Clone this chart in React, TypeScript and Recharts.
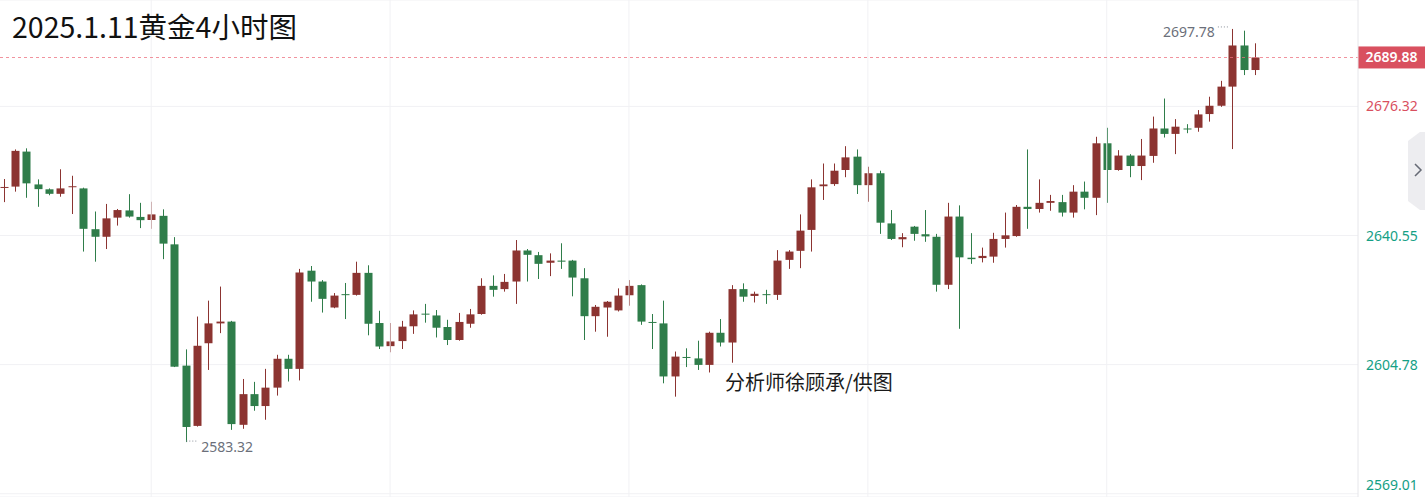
import React from "react";
import {
  ComposedChart,
  Bar,
  XAxis,
  YAxis,
  CartesianGrid,
  ReferenceLine,
  ReferenceDot,
} from "recharts";

// 4h candles (oldest first)
const opens = [
  2653.8, 2654.1, 2663.8, 2654.7, 2653.35, 2652.1, 2654.0, 2653.6, 2642.3, 2640.2,
  2645.5, 2647.5, 2645.7, 2644.85, 2646.0, 2638.1, 2604.5, 2587.8, 2610.7, 2616.2,
  2616.7, 2588.1, 2596.6, 2593.3, 2598.4, 2606.4, 2603.6, 2630.8, 2627.8, 2620.6,
  2624.3, 2624.1, 2630.2, 2616.3, 2609.9, 2611.3, 2615.4, 2618.9, 2618.4, 2615.2,
  2611.6, 2616.1, 2618.8, 2626.6, 2625.7, 2627.8, 2636.4, 2635.1, 2633.0, 2633.6,
  2633.6, 2628.7, 2618.2, 2620.6, 2619.8, 2624.0, 2626.8, 2616.6, 2616.2, 2601.5,
  2606.9, 2606.5, 2604.7, 2613.6, 2610.9, 2625.7, 2623.8, 2624.3, 2624.1, 2633.8,
  2636.3, 2642.1, 2654.2, 2654.8, 2658.7, 2662.4, 2654.5, 2657.8, 2643.9, 2639.5,
  2643.0, 2640.9, 2640.2, 2626.9, 2645.8, 2634.4, 2634.3, 2634.7, 2639.6, 2640.4,
  2648.5, 2647.9, 2649.6, 2649.8, 2646.9, 2652.7, 2651.0, 2666.1, 2658.7, 2662.7,
  2659.8, 2662.6, 2670.2, 2668.7, 2670.2, 2670.4, 2674.2, 2676.5, 2681.8, 2693.2,
  2686.4,
];
const highs = [
  2656.2, 2664.4, 2664.7, 2656.1, 2653.6, 2658.9, 2657.1, 2653.8, 2647.2, 2649.3,
  2647.9, 2652.0, 2649.6, 2649.9, 2647.8, 2640.1, 2609.0, 2618.1, 2622.5, 2626.4,
  2616.9, 2600.8, 2600.0, 2603.6, 2607.5, 2607.5, 2631.3, 2632.1, 2628.2, 2624.6,
  2627.4, 2633.3, 2632.3, 2619.7, 2616.3, 2616.9, 2619.8, 2621.6, 2619.9, 2617.2,
  2619.1, 2620.2, 2628.7, 2629.5, 2629.9, 2639.3, 2636.8, 2636.0, 2635.6, 2638.4,
  2633.8, 2631.5, 2621.3, 2622.4, 2625.9, 2628.2, 2627.0, 2618.8, 2622.5, 2608.4,
  2609.3, 2611.4, 2613.9, 2617.4, 2626.8, 2627.3, 2625.0, 2625.5, 2636.5, 2636.5,
  2646.4, 2656.1, 2660.5, 2660.5, 2665.3, 2664.4, 2659.6, 2658.5, 2647.6, 2641.2,
  2643.2, 2647.6, 2641.0, 2649.6, 2648.9, 2641.2, 2637.2, 2641.3, 2646.9, 2649.0,
  2664.4, 2656.1, 2651.8, 2651.8, 2654.5, 2655.5, 2667.9, 2670.4, 2664.2, 2663.1,
  2667.3, 2673.5, 2678.5, 2672.8, 2671.4, 2675.3, 2679.0, 2683.4, 2697.78, 2697.3,
  2693.8,
];
const lows = [
  2649.8, 2652.7, 2651.0, 2648.5, 2651.7, 2651.3, 2646.5, 2636.1, 2633.3, 2636.8,
  2643.3, 2645.5, 2642.6, 2642.4, 2634.0, 2604.1, 2583.32, 2587.6, 2603.3, 2613.5,
  2586.7, 2587.0, 2592.0, 2589.5, 2596.2, 2600.1, 2600.4, 2622.2, 2619.2, 2620.4,
  2617.4, 2623.9, 2612.9, 2609.1, 2608.2, 2609.1, 2613.3, 2616.4, 2612.3, 2610.2,
  2611.4, 2615.0, 2618.6, 2623.6, 2625.0, 2621.6, 2627.8, 2628.5, 2629.3, 2631.3,
  2623.7, 2611.6, 2613.9, 2612.5, 2619.5, 2621.1, 2615.8, 2609.1, 2599.6, 2595.9,
  2604.1, 2603.3, 2602.6, 2609.8, 2605.3, 2622.2, 2622.0, 2621.6, 2622.7, 2631.3,
  2631.5, 2636.1, 2650.4, 2654.3, 2656.7, 2652.05, 2649.9, 2641.0, 2639.3, 2637.3,
  2639.1, 2638.8, 2625.0, 2625.7, 2614.7, 2632.7, 2633.1, 2633.0, 2637.2, 2640.2,
  2642.4, 2646.9, 2647.4, 2645.8, 2645.5, 2647.8, 2646.2, 2649.6, 2658.5, 2656.7,
  2655.9, 2660.7, 2667.7, 2663.1, 2668.9, 2669.3, 2672.1, 2676.2, 2664.5, 2685.0,
  2685.0,
];
const closes = [
  2654.0, 2664.0, 2655.0, 2653.4, 2652.1, 2653.6, 2654.2, 2642.4, 2640.2, 2645.3,
  2647.6, 2645.8, 2644.8, 2646.4, 2638.3, 2604.2, 2587.5, 2610.0, 2616.2, 2616.7,
  2588.3, 2596.6, 2593.3, 2598.4, 2606.4, 2603.6, 2630.3, 2627.8, 2623.0, 2623.9,
  2624.1, 2630.2, 2616.1, 2609.8, 2611.2, 2615.3, 2618.7, 2618.7, 2615.0, 2611.6,
  2616.6, 2618.7, 2626.6, 2625.5, 2627.7, 2636.4, 2635.2, 2632.7, 2633.6, 2633.3,
  2628.9, 2618.2, 2620.8, 2622.2, 2623.9, 2626.6, 2616.7, 2616.4, 2601.5, 2607.0,
  2606.7, 2604.7, 2613.6, 2610.9, 2625.7, 2623.6, 2624.4, 2624.1, 2633.6, 2636.1,
  2641.9, 2653.9, 2654.7, 2658.5, 2662.2, 2654.5, 2657.8, 2644.1, 2639.6, 2640.1,
  2641.0, 2640.3, 2626.9, 2645.8, 2634.5, 2634.0, 2634.9, 2639.6, 2640.6, 2648.5,
  2647.9, 2649.6, 2650.1, 2646.9, 2652.7, 2651.0, 2666.1, 2658.7, 2662.7, 2659.8,
  2662.7, 2670.2, 2668.7, 2670.7, 2670.0, 2674.1, 2676.5, 2681.8, 2693.2, 2686.4,
  2689.88,
];

const priceTicks = [2569.01, 2604.78, 2640.55, 2676.32];
const tickColors = ["#14a085", "#14a085", "#14a085", "#d9505f"];
const lastPrice = 2689.88;
const lowMark = { index: 16, value: 2583.32 };
const highMark = { index: 108, value: 2697.78 };
const gridSlots = [13, 34, 55, 76, 97];
const EMPTY_SLOTS = 9; // blank space right of the last candle

const UP = "#8c3431";
const DOWN = "#2f7d4a";
const GRID = "#f1f1f4";
const PRICE_LINE = "#ec6f7e";

const rows = Array.from({ length: opens.length + EMPTY_SLOTS }, (_, i) =>
  i < opens.length
    ? { i, o: opens[i], h: highs[i], l: lows[i], c: closes[i] }
    : { i, o: null, h: null, l: null, c: null }
);

const Candle = (props: any) => {
  const { x, y, width, height, payload } = props;
  if (!payload || payload.o == null) return null;
  const { o, h, l, c } = payload;
  const top = Math.min(y, y + height);
  const span = Math.abs(height);
  const k = h === l ? 0 : span / (h - l);
  const py = (v: number) => top + (h - v) * k;
  const color = c >= o ? UP : DOWN;
  const cx = Math.round(x + width / 2) + 0.5;
  const bodyTop = py(Math.max(o, c));
  const bodyH = Math.max(py(Math.min(o, c)) - bodyTop, 1);
  return (
    <g>
      <line x1={cx} x2={cx} y1={top} y2={top + span} stroke={color} strokeWidth={1} />
      <rect x={cx - width / 2} y={bodyTop} width={width} height={bodyH} fill={color} />
    </g>
  );
};

const PriceTick = (props: any) => {
  const { x, y, payload } = props;
  const idx = priceTicks.indexOf(payload.value);
  return (
    <text
      x={x}
      y={Math.min(y, 485)}
      dy={5}
      fill={tickColors[idx] || "#14a085"}
      fontSize={14}
      fontFamily="Noto Sans"
      textAnchor="start"
    >
      {payload.value.toFixed(2)}
    </text>
  );
};

// dashed last-price line across the plot plus the red tag on the axis
const PriceTag = (props: any) => {
  const { viewBox } = props;
  const left = viewBox.x + viewBox.width;
  const y = Math.round(viewBox.y) + 0.5;
  return (
    <g>
      <line
        x1={viewBox.x}
        x2={left}
        y1={y}
        y2={y}
        stroke={PRICE_LINE}
        strokeOpacity={0.75}
        strokeWidth={1}
        strokeDasharray="3 3"
      />
      <rect x={left} y={viewBox.y - 11} width={67} height={22} fill="#d9505f" />
      <text
        x={left + 33.5}
        y={viewBox.y + 5}
        fill="#fff"
        fontSize={14}
        fontWeight={600}
        fontFamily="Noto Sans"
        textAnchor="middle"
      >
        {lastPrice.toFixed(2)}
      </text>
    </g>
  );
};

const LowNote = (props: any) => {
  const { viewBox } = props;
  const cx = viewBox.x + viewBox.width / 2;
  const cy = viewBox.y + viewBox.height / 2;
  return (
    <g>
      <line x1={cx + 1} x2={cx + 13} y1={cy - 1} y2={cy - 1} stroke="#8a8f99" strokeDasharray="1 2" />
      <text x={cx + 16} y={cy + 10} fill="#6b6f7a" fontSize={14} fontFamily="Noto Sans">
        {lowMark.value.toFixed(2)}
      </text>
    </g>
  );
};

const HighNote = (props: any) => {
  const { viewBox } = props;
  const cx = viewBox.x + viewBox.width / 2;
  const cy = viewBox.y + viewBox.height / 2;
  return (
    <g>
      <line x1={cx - 14} x2={cx - 2} y1={cy - 2} y2={cy - 2} stroke="#8a8f99" strokeDasharray="1 2" />
      <text x={cx - 17} y={cy + 8} fill="#6b6f7a" fontSize={14} fontFamily="Noto Sans" textAnchor="end">
        {highMark.value.toFixed(2)}
      </text>
    </g>
  );
};

const App = () => {
  return (
    <div
      style={{
        position: "absolute",
        left: 0,
        top: 0,
        width: 1425,
        height: 497,
        background: "#fff",
        overflow: "hidden",
      }}
    >
      <ComposedChart
        width={1425}
        height={497}
        data={rows}
        margin={{ top: 0, right: 0, bottom: 0, left: 0 }}
      >
        <CartesianGrid stroke={GRID} vertical={false} />
        {gridSlots.map((s) => (
          <ReferenceLine key={s} x={s} stroke={GRID} strokeWidth={1} />
        ))}
        <XAxis
          dataKey="i"
          type="category"
          hide
          padding={{ left: -2.39, right: -4.7 }}
        />
        <YAxis
          orientation="right"
          width={67}
          domain={[2568.1, 2705.8]}
          ticks={priceTicks}
          interval={0}
          allowDataOverflow
          axisLine={{ stroke: "#e6e6ea" }}
          tickLine={false}
          tick={<PriceTick />}
        />
        <ReferenceLine
          y={lastPrice}
          stroke="none"
          label={<PriceTag />}
        />
        <Bar
          dataKey={(d: any) => (d.o == null ? null : [d.l, d.h])}
          barSize={8}
          shape={<Candle />}
          isAnimationActive={false}
        />
        <ReferenceDot
          x={lowMark.index}
          y={lowMark.value}
          r={1}
          fill="none"
          stroke="none"
          label={<LowNote />}
        />
        <ReferenceDot
          x={highMark.index}
          y={highMark.value}
          r={1}
          fill="none"
          stroke="none"
          label={<HighNote />}
        />
      </ComposedChart>

      <svg
        width={1425}
        height={497}
        style={{ position: "absolute", left: 0, top: 0, pointerEvents: "none" }}
      >
        <text x={12} y={38} fontSize={28.5} fill="#111" fontFamily="'Noto Sans CJK SC', 'Noto Sans'">
          2025.1.11黄金4小时图
        </text>
        <text x={725} y={390} fontSize={20} fill="#1a1a1a" fontFamily="'Noto Sans CJK SC', 'Noto Sans'">
          分析师徐顾承/供图
        </text>
        <path d="M1408 141 L1420 132 L1425 132 L1425 210 L1420 210 L1408 201 Z" fill="#ededf0" />
        <path d="M1415 164 L1421 170 L1415 176" fill="none" stroke="#666a75" strokeWidth={1.5} />
      </svg>
    </div>
  );
};

export default App;
